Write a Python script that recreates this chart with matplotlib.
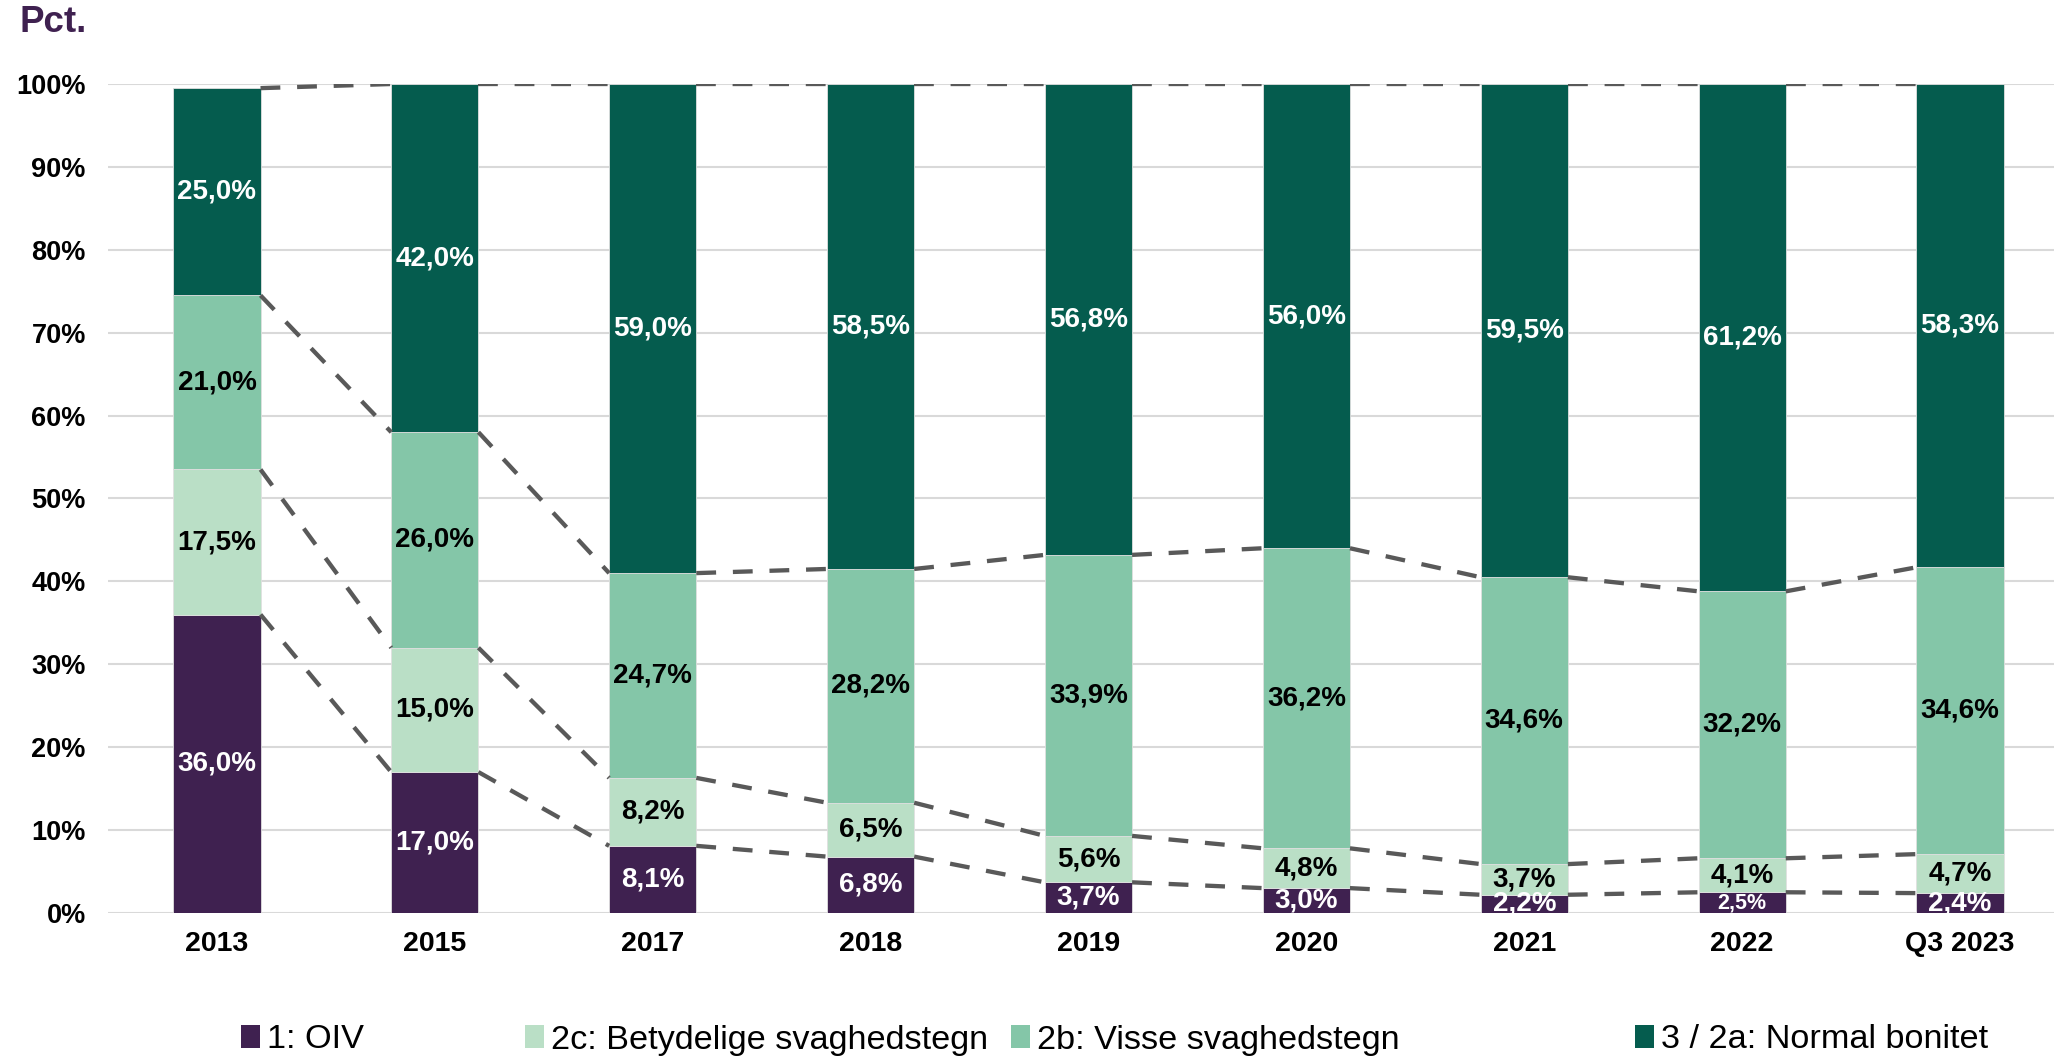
import matplotlib
matplotlib.use("Agg")
import matplotlib.pyplot as plt
from matplotlib.patches import Patch
import numpy as np

plt.rcParams['font.family'] = ['Liberation Sans', 'DejaVu Sans']

categories = ["2013", "2015", "2017", "2018", "2019", "2020", "2021", "2022", "Q3 2023"]
series_names = ["1: OIV", "2c: Betydelige svaghedstegn", "2b: Visse svaghedstegn", "3 / 2a: Normal bonitet"]
oiv = [36.0, 17.0, 8.1, 6.8, 3.7, 3.0, 2.2, 2.5, 2.4]
betydelige = [17.5, 15.0, 8.2, 6.5, 5.6, 4.8, 3.7, 4.1, 4.7]
visse = [21.0, 26.0, 24.7, 28.2, 33.9, 36.2, 34.6, 32.2, 34.6]
normal = [25.0, 42.0, 59.0, 58.5, 56.8, 56.0, 59.5, 61.2, 58.3]
yticks = [0, 10, 20, 30, 40, 50, 60, 70, 80, 90, 100]

colors = ["#3F2150", "#BADFC6", "#84C6A8", "#055C4E"]
label_colors = ["white", "black", "black", "white"]

W, H = 2054, 1058
fig = plt.figure(figsize=(W / 100, H / 100), dpi=100)
ax = fig.add_axes([108 / W, 1 - 913 / H, (2069 - 108) / W, 829 / H])

data = np.array([oiv, betydelige, visse, normal])
x = np.arange(len(categories))
bw = 0.4
bottom = np.zeros(len(categories))
for k in range(4):
    ax.bar(x, data[k], bw, bottom=bottom, color=colors[k], edgecolor="#E0E0E0",
           linewidth=0.6, zorder=2)
    for i in range(len(categories)):
        v = data[k][i]
        fs = 20
        if k == 0 and categories[i] == "2022":
            fs = 15.5
        ax.text(x[i], bottom[i] + v / 2, f"{v:.1f}%".replace(".", ","),
                ha="center", va="center", fontsize=fs, fontweight="bold",
                color=label_colors[k], zorder=4, clip_on=True)
    bottom = bottom + data[k]

# series lines
cum = np.cumsum(data, axis=0)
for k in range(4):
    for i in range(len(categories) - 1):
        ax.plot([x[i] + bw / 2, x[i + 1] - bw / 2], [cum[k][i], cum[k][i + 1]],
                color="#595959", linewidth=3.1, dashes=(4.6, 3.9), zorder=3,
                solid_capstyle="butt", dash_capstyle="butt")

ax.set_xlim(-0.5, len(categories) - 0.5)
ax.set_ylim(0, 100)
ax.set_yticks(yticks)
ax.set_yticklabels([f"{t}%" for t in yticks])
ax.set_xticks(x)
ax.set_xticklabels(categories)
ax.tick_params(axis="y", length=0, pad=16, labelsize=19.5)
ax.tick_params(axis="x", length=0, pad=13, labelsize=20.5)
for lbl in ax.get_xticklabels() + ax.get_yticklabels():
    lbl.set_fontweight("bold")
ax.grid(axis="y", color="#D9D9D9", linewidth=1.5, zorder=0)
ax.set_axisbelow(True)
for s in ax.spines.values():
    s.set_visible(False)

fig.text(20 / W, 1 - 23 / H, "Pct.", fontsize=26.5, fontweight="bold",
         color="#3F2150", ha="left", va="center")

marker_x = [249, 533, 1019, 1643]
for k in range(4):
    fig.legend(handles=[Patch(facecolor=colors[k], edgecolor="none")],
               labels=[series_names[k]], loc="center left",
               bbox_to_anchor=(marker_x[k] / W - 0.004, 1 - 1040 / H),
               frameon=False, fontsize=24.7, handlelength=0.55, handleheight=0.65,
               handletextpad=0.22, borderpad=0, borderaxespad=0)

fig.savefig("out.png", dpi=100, facecolor="white")
